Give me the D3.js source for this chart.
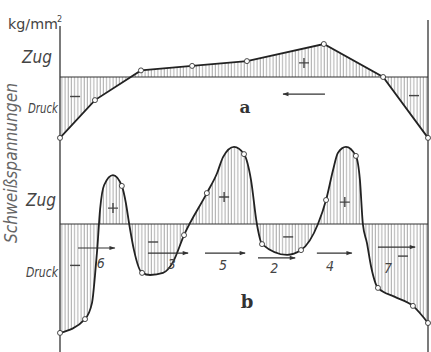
<!DOCTYPE html>
<html lang="en">
<head>
<meta charset="utf-8">
<script src="https://d3js.org/d3.v7.min.js"></script>
<style type="text/css">
body { margin: 0; background: #fff; }
.lbl { font-family: "DejaVu Sans Condensed", "DejaVu Sans", sans-serif; font-style: italic; fill: #444; }
.panel { font-family: "DejaVu Serif", serif; font-weight: bold; fill: #333; }
</style>
</head>
<body>
<script type="text/javascript">

// position along the seam (0..100) and stress (kg/mm², + = Zug, - = Druck)
// panel a
var posA    = [0, 9.5, 22, 35.9, 50.8, 71.7, 87.8, 100];
var stressA = [-20.3, -7.7, 2.2, 3.7, 5.3, 11, 0, -20.3];

// panel b: curve points, 1 = measured point (circle)
var posB = [0, 6.8, 8.7, 9.5, 10.1, 10.9, 12.0, 14.4, 16.8, 17.9, 18.8, 20.1, 22.3, 24.5, 28.0, 30.7,
            33.7, 39.9, 42.7, 44.3, 47.3, 50.0, 51.9, 53.5, 54.9, 61.7, 65.5, 70.1, 72.3,
            74.2, 75.5, 77.7, 80.4, 81.5, 82.3, 83.4, 84.5, 86.4, 91.0, 95.9, 100];
var stressB = [-36.3, -31.7, -26.3, -17.3, -8.7, 5.0, 13.0, 16.3, 12.7, 7.0, 0, -8.7, -16.3, -17.0, -16.3, -12.7,
               -3.7, 10.3, 17.0, 22.3, 25.7, 23.3, 14.7, 0, -6.7, -10.3, -8.7, 0, 8.0,
               18.0, 23.7, 25.7, 22.7, 14.7, 0, -6.3, -14.0, -21.3, -24.3, -27.3, -33.0];
var measuredB = [1, 1, 0, 0, 0, 0, 0, 0, 1, 0, 0, 0, 1, 0, 0, 0,
                 1, 1, 0, 0, 0, 1, 0, 0, 1, 0, 1, 0, 1,
                 0, 0, 0, 1, 0, 0, 0, 0, 1, 0, 1, 1];

// welding order arrows in b: start, end, level, number
var arrowStart = [4.9, 23.9, 39.4, 53.8, 69.8, 86.4];
var arrowEnd   = [14.9, 34.8, 50.3, 63.9, 79.3, 96.5];
var arrowLevel = [-8, -9.7, -9.7, -11.3, -9.7, -7.7];
var arrowNum   = ["6", "3", "5", "2", "4", "7"];
var arrowNumPos = [11.1, 30.4, 44.3, 58.2, 73.4, 89.1];
var arrowNumLevel = [-14.5, -15, -15.3, -16.3, -15.5, -16.3];

// sign labels (1 = plus, 0 = minus)
var signPosA = [4.1, 66.3, 96.2];
var signValA = [-6.5, 4.7, -6.2];
var signPlusA = [0, 1, 0];
var signPosB = [4.1, 14.4, 25.3, 44.6, 62.0, 77.4, 93.2];
var signValB = [-13.8, 5.3, -6.0, 9.0, -4.3, 7.3, -10.7];
var signPlusB = [0, 1, 0, 1, 0, 1, 0];

var width = 431, height = 352;

var x = d3.scaleLinear().domain([0, 100]).range([60, 428]);
var yA = d3.scaleLinear().domain([-25, 25]).range([152, 2]);
var yB = d3.scaleLinear().domain([-40, 40]).range([344, 104]);

var svg = d3.select("body").append("svg")
  .attr("width", width)
  .attr("height", height);

var defs = svg.append("defs");
defs.append("pattern")
  .attr("id", "hatch")
  .attr("patternUnits", "userSpaceOnUse")
  .attr("width", 3.2).attr("height", 10)
  .append("line")
  .attr("x1", 1).attr("x2", 1).attr("y1", 0).attr("y2", 10)
  .style("stroke", "#8a8a8a").style("stroke-width", 0.8);

defs.append("marker")
  .attr("id", "head")
  .attr("viewBox", "0 0 10 10")
  .attr("refX", 9).attr("refY", 5)
  .attr("markerWidth", 10).attr("markerHeight", 6)
  .attr("markerUnits", "userSpaceOnUse")
  .attr("orient", "auto")
  .append("path")
  .attr("d", "M0,1.5L10,5L0,8.5Z")
  .style("fill", "#333");

var dataA = posA.map(function(p, i) { return {p: p, s: stressA[i]}; });
var dataB = posB.map(function(p, i) { return {p: p, s: stressB[i], m: measuredB[i]}; });

function panel(data, y, curve) {
  var area = d3.area().curve(curve)
    .x(function(d) { return x(d.p); })
    .y0(y(0))
    .y1(function(d) { return y(d.s); });
  var line = d3.line().curve(curve)
    .x(function(d) { return x(d.p); })
    .y(function(d) { return y(d.s); });

  svg.append("path").attr("d", area(data)).style("fill", "url(#hatch)");
  svg.append("line")
    .attr("x1", x(0)).attr("x2", x(100))
    .attr("y1", y(0)).attr("y2", y(0))
    .style("stroke", "#333").style("stroke-width", 1.1);
  svg.append("path").attr("d", line(data))
    .style("fill", "none").style("stroke", "#222").style("stroke-width", 1.8);
}

panel(dataA, yA, d3.curveLinear);
panel(dataB, yB, d3.curveMonotoneX);

// axes (plate edges)
svg.append("line").attr("x1", x(0)).attr("x2", x(0)).attr("y1", 26).attr("y2", height)
  .style("stroke", "#333").style("stroke-width", 1.3);
svg.append("line").attr("x1", x(100)).attr("x2", x(100)).attr("y1", 20).attr("y2", height)
  .style("stroke", "#333").style("stroke-width", 1.3);

// measured points
svg.selectAll("circle.a").data(dataA).enter().append("circle")
  .attr("class", "a")
  .attr("cx", function(d) { return x(d.p); })
  .attr("cy", function(d) { return yA(d.s); })
  .attr("r", 2.5)
  .style("fill", "#fff").style("stroke", "#333").style("stroke-width", 0.9);

svg.selectAll("circle.b").data(dataB.filter(function(d) { return d.m; })).enter().append("circle")
  .attr("class", "b")
  .attr("cx", function(d) { return x(d.p); })
  .attr("cy", function(d) { return yB(d.s); })
  .attr("r", 2.5)
  .style("fill", "#fff").style("stroke", "#333").style("stroke-width", 0.9);

// arrow in a
svg.append("line")
  .attr("x1", x(72)).attr("x2", x(60.6))
  .attr("y1", yA(-5.7)).attr("y2", yA(-5.7))
  .attr("marker-end", "url(#head)")
  .style("stroke", "#333").style("stroke-width", 1.1);

// welding order arrows in b
arrowStart.forEach(function(s, i) {
  svg.append("line")
    .attr("x1", x(s)).attr("x2", x(arrowEnd[i]))
    .attr("y1", yB(arrowLevel[i])).attr("y2", yB(arrowLevel[i]))
    .attr("marker-end", "url(#head)")
    .style("stroke", "#333").style("stroke-width", 1.1);
  svg.append("text").attr("class", "lbl")
    .attr("x", x(arrowNumPos[i])).attr("y", yB(arrowNumLevel[i]))
    .attr("text-anchor", "middle")
    .style("font-size", "14px")
    .text(arrowNum[i]);
});

// signs drawn as strokes
function sign(cx, cy, plus) {
  var path = "M" + (cx - 5) + "," + cy + "H" + (cx + 5);
  if (plus) path += "M" + cx + "," + (cy - 5) + "V" + (cy + 5);
  svg.append("path").attr("d", path)
    .style("stroke", "#444").style("stroke-width", 1.4).style("fill", "none");
}
signPosA.forEach(function(p, i) { sign(x(p), yA(signValA[i]), signPlusA[i]); });
signPosB.forEach(function(p, i) { sign(x(p), yB(signValB[i]), signPlusB[i]); });

// panel letters
svg.append("text").attr("class", "panel").attr("x", 245).attr("y", 113)
  .attr("text-anchor", "middle").style("font-size", "17px").text("a");
svg.append("text").attr("class", "panel").attr("x", 247).attr("y", 308)
  .attr("text-anchor", "middle").style("font-size", "18px").text("b");

// axis labels
svg.append("text").attr("class", "lbl").attr("x", 8).attr("y", 29)
  .attr("textLength", 50).attr("lengthAdjust", "spacingAndGlyphs")
  .style("font-size", "14px").style("font-style", "normal")
  .text("kg/mm");
svg.append("text").attr("class", "lbl").attr("x", 57).attr("y", 22)
  .style("font-size", "9px").style("font-style", "normal").text("2");

svg.append("text").attr("class", "lbl").attr("x", 52).attr("y", 63)
  .attr("text-anchor", "end").style("font-size", "17px").text("Zug");
svg.append("text").attr("class", "lbl").attr("x", 58).attr("y", 113)
  .attr("text-anchor", "end").attr("textLength", 30).attr("lengthAdjust", "spacingAndGlyphs")
  .style("font-size", "14px").text("Druck");
svg.append("text").attr("class", "lbl").attr("x", 56).attr("y", 206)
  .attr("text-anchor", "end").style("font-size", "17px").text("Zug");
svg.append("text").attr("class", "lbl").attr("x", 58).attr("y", 277)
  .attr("text-anchor", "end").attr("textLength", 32).attr("lengthAdjust", "spacingAndGlyphs")
  .style("font-size", "14px").text("Druck");

svg.append("text").attr("class", "lbl")
  .attr("transform", "translate(17,163) rotate(-90)")
  .attr("text-anchor", "middle")
  .attr("textLength", 160).attr("lengthAdjust", "spacingAndGlyphs")
  .style("font-size", "17px").style("fill", "#666")
  .text("Schwei\u00dfspannungen");

</script>
</body>
</html>
